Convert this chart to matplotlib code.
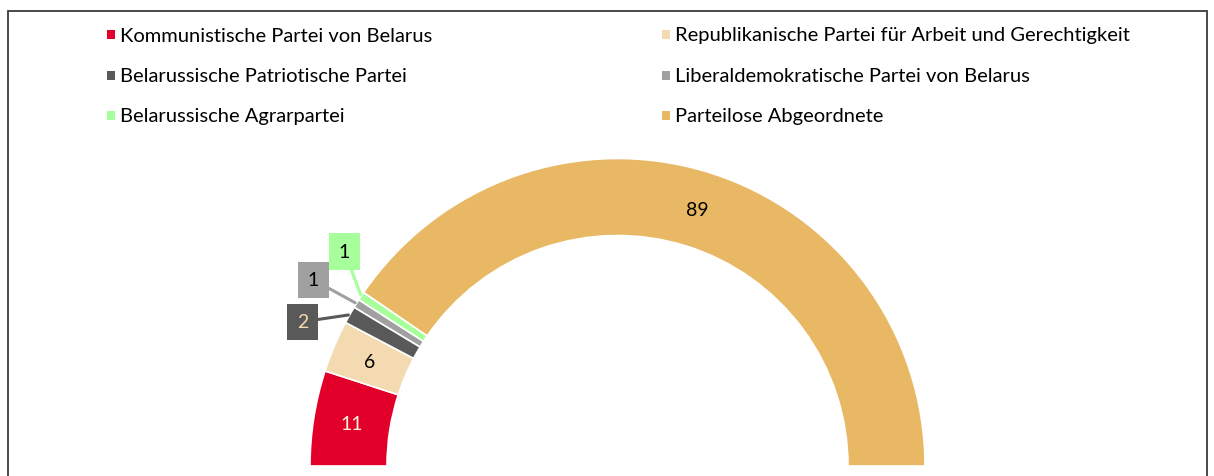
import matplotlib.pyplot as plt
from matplotlib.patches import Rectangle
import numpy as np

parties = [
    'Kommunistische Partei von Belarus',
    'Republikanische Partei für Arbeit und Gerechtigkeit',
    'Belarussische Patriotische Partei',
    'Liberaldemokratische Partei von Belarus',
    'Belarussische Agrarpartei',
    'Parteilose Abgeordnete',
]
seats = [11, 6, 2, 1, 1, 89]
colors = ['#e2002a', '#f4dab0', '#595959', '#a0a0a0', '#a6ff9a', '#e8b865']
label_colors = ['#fff0dc', 'black', '#f4dab0', 'black', 'black', 'black']
callout = [False, False, True, True, True, False]

plt.rcParams['font.family'] = ['Lato', 'DejaVu Sans']

W, H = 1214, 477
fig = plt.figure(figsize=(W / 100, H / 100), dpi=100)
ax = fig.add_axes([0, 0, 1, 1])

cx, cy, R, ring = 617.5, 10, 307.5, 77
total = sum(seats)

# hidden lower half makes the pie a semicircle
wedges, _ = ax.pie(seats + [total], colors=colors + ['none'], startangle=180,
                   counterclock=False, center=(cx, cy), radius=R,
                   wedgeprops=dict(width=ring, edgecolor='white', linewidth=1.2))
wedges[-1].set_edgecolor('none')

ax.set_xlim(0, W)
ax.set_ylim(0, H)
ax.set_aspect('equal')
ax.axis('off')

cum = np.cumsum([0] + seats)
# box offsets (points) for small segments
offsets = {2: (-34, -5), 3: (-31, 17), 4: (-12, 32)}
for i, n in enumerate(seats):
    mid = (cum[i] + cum[i + 1]) / 2 / total * 180
    th = np.deg2rad(180 - mid)
    if not callout[i]:
        r = R - ring / 2
        ax.text(cx + r * np.cos(th), cy + r * np.sin(th), str(n), ha='center',
                va='center', fontsize=14, color=label_colors[i])
    else:
        ax.annotate(str(n), xy=(cx + R * np.cos(th), cy + R * np.sin(th)),
                    xytext=offsets[i], textcoords='offset points',
                    ha='center', va='center', fontsize=14, color=label_colors[i],
                    bbox=dict(boxstyle='square,pad=0.5', fc=colors[i], ec='none'),
                    arrowprops=dict(arrowstyle='-', color=colors[i], lw=2.2,
                                    shrinkA=0, shrinkB=1))

# legend, two columns
for i, (p, c) in enumerate(zip(parties, colors)):
    x0 = 107 if i % 2 == 0 else 662
    y0 = H - 36 - (i // 2) * 40.5
    fig.patches.append(Rectangle((x0 / W, (y0 - 4) / H), 8 / W, 9 / H,
                                 transform=fig.transFigure, fc=c, ec='none'))
    fig.text((x0 + 13) / W, y0 / H, p, fontsize=14.5, va='center', ha='left')

# frame
fig.patches.append(Rectangle((7.5 / W, -10 / H), 1199 / W, 475 / H,
                             transform=fig.transFigure, fc='none',
                             ec='#3a3a3a', lw=1.3))

fig.savefig('out.png', dpi=100)
